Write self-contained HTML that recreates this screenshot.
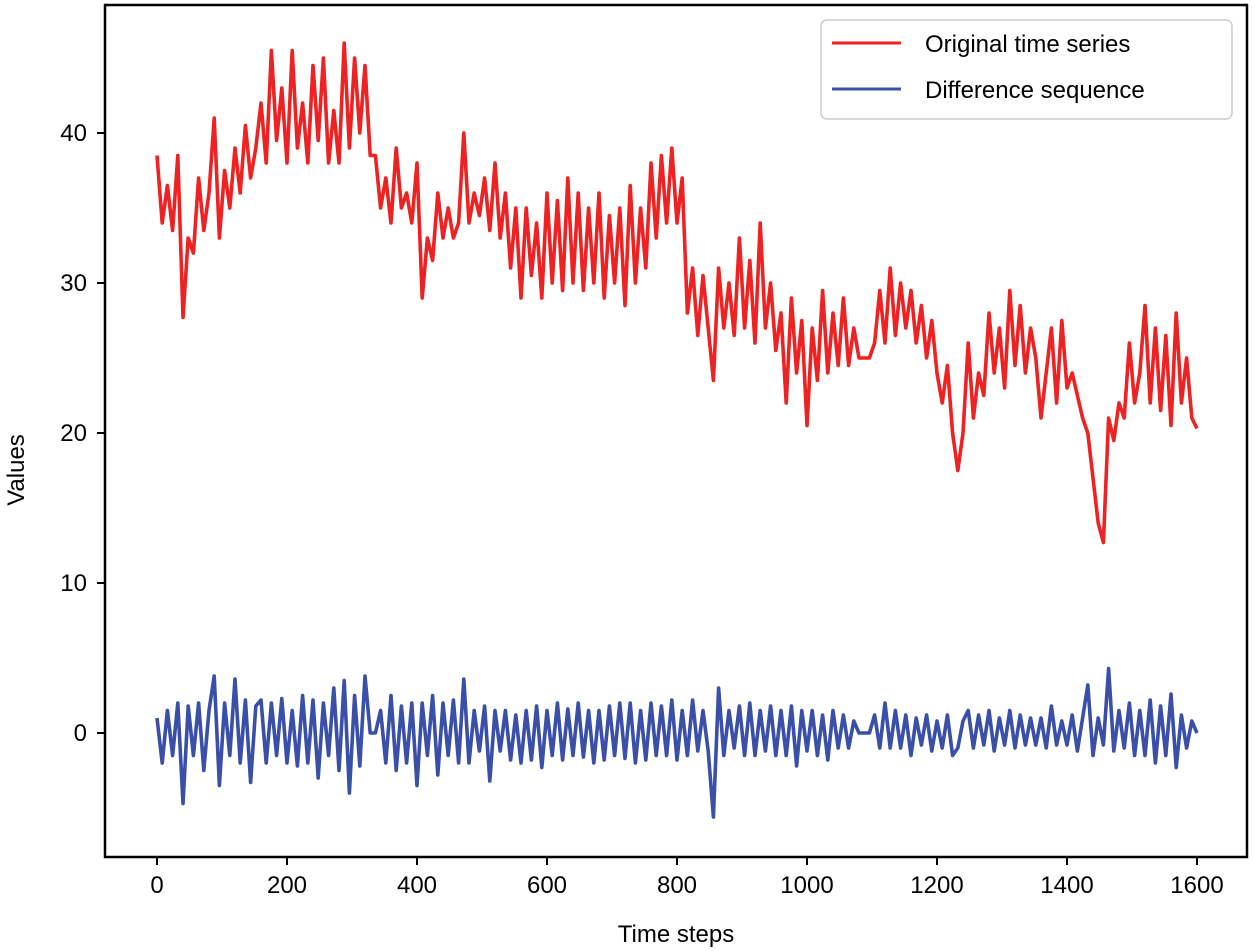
<!DOCTYPE html>
<html><head><meta charset="utf-8"><style>
html,body{margin:0;padding:0;background:#fff;}
svg{display:block;font-family:"Liberation Sans",Arial,sans-serif;}
</style></head><body>
<svg id="chart" width="1255" height="951" viewBox="0 0 1255 951">
<rect x="105" y="5" width="1142" height="852" fill="#fff" stroke="#000" stroke-width="2.5"/>
<g id="ticks"></g>
<g id="series"></g>
<text x="676" y="942" font-size="24" text-anchor="middle">Time steps</text>
<text transform="translate(24,470) rotate(-90)" font-size="24" text-anchor="middle">Values</text>
<g>
<rect x="821" y="20" width="411" height="99" rx="6" fill="#fff" stroke="#ccc" stroke-width="1.5"/>
<line x1="832" y1="43" x2="901" y2="43" stroke="#ee2222" stroke-width="3"/>
<text x="925" y="52" font-size="24">Original time series</text>
<line x1="832" y1="89" x2="901" y2="89" stroke="#3a4fa8" stroke-width="3"/>
<text x="925" y="98" font-size="24">Difference sequence</text>
</g>
</svg>
<script>
const stepSize = 8;
const originalValues = [38.5,34,36.5,33.5,38.5,27.7,33,32,37,33.5,
36,41,33,37.5,35,39,36,40.5,37,39,
42,38,45.5,39.5,43,38,45.5,39,42,38,
44.5,39.5,45,38,41.5,38,46,39,45,40,
44.5,38.5,38.5,35,37,34,39,35,36,34,
38,29,33,31.5,36,33,35,33,34,40,
34,36,34.5,37,33.5,38,33,36,31,35,
29,35,30.5,34,29,36,30,35.5,29.5,37,
30,36,29.5,35,30,36,29,34.5,30,35,
28.5,36.5,30,35,31,38,33,38.5,34,39,
34,37,28,31,26.5,30.5,27,23.5,31,27,
30,26.5,33,27,31.5,26,34,27,30,25.5,
28,22,29,24,27.5,20.5,27,23.5,29.5,24,
28,24.5,29,24.5,27,25,25,25,26,29.5,
26,31,26.5,30,27,29.5,26,28.5,25,27.5,
24,22,24.5,20,17.5,20,26,21,24,22.5,
28,24,27,23,29.5,24.5,28.5,24,27,25,
21,24,27,22,27.5,23,24,22.5,21,20,
17,14,12.7,21,19.5,22,21,26,22,24,
28.5,22,27,21.5,26.5,20.5,28,22,25,21,20.3];
const differenceValues = [1,-2,1.5,-1.5,2,-4.7,1.8,-1.5,2,-2.5,
1.5,3.8,-3.5,2,-1.5,3.6,-2,2.2,-3.3,1.8,
2.2,-2,2,-1.5,2.3,-2,1.5,-2.2,2.5,-2,
2.2,-3,2,-1.5,3,-2.5,3.5,-4,2.5,-2.2,
3.8,0,0,1.5,-2,2.5,-2.5,1.8,-2,2,
-3.5,2,-1.5,2.5,-2.8,2,-1.5,2.2,-2,3.6,
-2,1.5,-1.2,1.8,-3.2,1.5,-1.2,1.5,-1.8,1.2,
-2,1.5,-1.8,1.8,-2.3,1.5,-1.5,2,-1.8,1.6,
-1.5,2,-1.6,1.5,-2,1.5,-1.8,1.8,-1.5,2,
-1.7,2,-2,1.5,-1.8,2,-1.5,1.8,-1.5,2.2,
-1.8,1.5,-1.5,2.2,-1.2,1.5,-1.2,-5.6,3,-1.5,
1.5,-1,1.8,-1.5,2,-1.5,1.5,-1.2,1.8,-1.5,
1.5,-1.5,1.8,-2.2,1.5,-1.2,1.5,-1.5,1.2,-1.8,
1.5,-1,1.2,-1,0.8,0,0,0,1.2,-1,
2,-1,1.5,-1,1.2,-1.5,1,-0.8,1.2,-1.2,
0.8,-1,1.2,-1.5,-1,0.8,1.5,-1,1.2,-0.8,
1.5,-1.2,1,-0.8,1.5,-1,1.2,-0.8,1,-0.8,
1,-1,1.8,-0.8,0.8,-0.8,1.2,-1.2,1,3.2,
-1.5,1,-0.8,4.3,-1.2,1.5,-1,2,-1.5,1.5,
-1.5,2.2,-2,1.8,-1.5,2.6,-2.3,1.2,-1,0.8,0];
const xTicks = [0,200,400,600,800,1000,1200,1400,1600];
const yTicks = [0,10,20,30,40];

const NS = "http://www.w3.org/2000/svg";
const xScale = v => 157 + v * 0.65;
const yScale = v => 733 - v * 15;
const ticksG = document.getElementById('ticks');
const seriesG = document.getElementById('series');
function mk(tag, attrs, parent){const e=document.createElementNS(NS,tag);for(const k in attrs)e.setAttribute(k,attrs[k]);parent.appendChild(e);return e;}
xTicks.forEach(t=>{
  const x=xScale(t);
  const l=mk('line',{x1:x,x2:x,y1:857,y2:865,stroke:'#000','stroke-width':2},ticksG);
  
  
  const tx=mk('text',{x:x,y:893,'font-size':24,'text-anchor':'middle'},ticksG);
  tx.textContent=t;
  
  
});
yTicks.forEach(t=>{
  const y=yScale(t);
  const l=mk('line',{x1:97,x2:105,y1:y,y2:y,stroke:'#000','stroke-width':2},ticksG);
  
  
  const tx=mk('text',{x:87,y:y+8,'font-size':24,'text-anchor':'end'},ticksG);
  tx.textContent=t;
  
  
});
function path(vals,color,name){
  const d=vals.map((v,i)=>(i?'L':'M')+xScale(i*stepSize).toFixed(1)+' '+yScale(v).toFixed(1)).join(' ');
  const p=mk('path',{d:d,fill:'none',stroke:color,'stroke-width':3.6,'stroke-linejoin':'round'},seriesG);
  
  
}
path(originalValues,'#ee2222','original-series-line');
path(differenceValues,'#3a4fa8','difference-series-line');
</script>
</body></html>
